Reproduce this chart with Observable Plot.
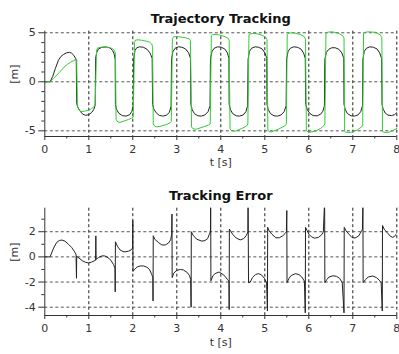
<!DOCTYPE html>
<html><head><meta charset="utf-8">
<script src="https://cdn.jsdelivr.net/npm/d3@7"></script>
<script src="https://cdn.jsdelivr.net/npm/@observablehq/plot@0.6"></script>
<style>body{margin:0;background:#fff}#chart svg{display:block}</style>
</head><body><div id="chart"></div>
<script>
const xTicks = [0, 1, 2, 3, 4, 5, 6, 7, 8];
const xMinor = [0.5, 1.5, 2.5, 3.5, 4.5, 5.5, 6.5, 7.5];
const topYTicks = [-5, 0, 5];
const topYMinor = [-4, -3, -2, -1, 1, 2, 3, 4];
const errYTicks = [-4, -2, 0, 2];
const errYMinor = [-3, -1, 1, 3];
const titles = ["Trajectory Tracking", "Tracking Error"];
const xLabel = "t [s]";
const yLabel = "[m]";

// reference trajectory (black), [t, value]
const refTrack = [
  [0,0],[0.12,0],[0.18,0.55],[0.24,1.36],[0.31,2.2],[0.37,2.6],[0.43,2.8],[0.5,2.97],[0.56,3.0],[0.61,2.92],[0.66,2.7],[0.7,2.38],[0.715,2.1],
  [0.725,-2.2],[0.75,-2.6],[0.8,-2.98],[0.86,-3.3],[0.93,-3.42],[1.0,-3.35],[1.06,-3.15],[1.11,-2.85],[1.145,-2.4],
  [1.155,2.4],[1.18,3.0],[1.22,3.35],[1.3,3.52],[1.4,3.55],[1.48,3.45],[1.54,3.2],[1.58,2.8],[1.6,2.3],
  [1.605,-2.3],[1.63,-2.8],[1.68,-3.2],[1.76,-3.45],[1.85,-3.5],[1.93,-3.35],[1.98,-3.0],[2.01,-2.4],
  [2.02,2.3],[2.05,3.2],[2.09,3.47],[2.16,3.57],[2.24,3.52],[2.32,3.33],[2.39,2.95],[2.44,2.4],
  [2.45,-2.3],[2.48,-2.8],[2.53,-3.15],[2.6,-3.42],[2.68,-3.5],[2.76,-3.42],[2.83,-3.13],[2.87,-2.5],
  [2.88,2.3],[2.91,3.05],[2.96,3.42],[3.04,3.57],[3.12,3.52],[3.2,3.35],[3.27,2.95],[3.31,2.4],
  [3.32,-2.3],[3.35,-2.85],[3.4,-3.25],[3.48,-3.47],[3.56,-3.5],[3.64,-3.38],[3.71,-3.05],[3.755,-2.45],
  [3.765,2.3],[3.8,3.1],[3.85,3.42],[3.93,3.57],[4.01,3.52],[4.09,3.35],[4.15,2.95],[4.185,2.4],
  [4.19,-2.3],[4.22,-2.85],[4.27,-3.25],[4.35,-3.47],[4.43,-3.5],[4.51,-3.38],[4.57,-3.05],[4.61,-2.45],
  [4.62,2.3],[4.65,3.1],[4.7,3.42],[4.78,3.57],[4.86,3.52],[4.94,3.35],[5.0,2.95],[5.045,2.4],
  [5.05,-2.3],[5.08,-2.85],[5.13,-3.25],[5.21,-3.47],[5.29,-3.5],[5.37,-3.38],[5.44,-3.05],[5.485,-2.45],
  [5.495,2.3],[5.53,3.1],[5.58,3.42],[5.66,3.57],[5.74,3.52],[5.82,3.35],[5.88,2.95],[5.92,2.4],
  [5.93,-2.3],[5.97,-2.9],[6.03,-3.25],[6.1,-3.45],[6.19,-3.47],[6.27,-3.3],[6.32,-3.0],[6.355,-2.45],
  [6.365,2.3],[6.4,3.0],[6.45,3.3],[6.52,3.47],[6.6,3.47],[6.68,3.33],[6.75,2.95],[6.795,2.4],
  [6.8,-2.3],[6.83,-2.85],[6.88,-3.25],[6.96,-3.47],[7.04,-3.5],[7.12,-3.38],[7.18,-3.05],[7.22,-2.45],
  [7.23,2.3],[7.26,3.1],[7.31,3.42],[7.39,3.57],[7.47,3.52],[7.55,3.35],[7.61,2.95],[7.655,2.4],
  [7.665,-2.3],[7.69,-2.8],[7.74,-3.2],[7.8,-3.4],[7.88,-3.45],[7.95,-3.35],[8.0,-3.15]
];

// actual trajectory (green), [t, value]
const actTrack = [
  [0,0],[0.12,0],[0.2,0.35],[0.31,0.86],[0.4,1.3],[0.46,1.6],[0.52,1.8],[0.58,1.98],[0.64,2.12],[0.69,2.25],[0.725,2.3],
  [0.74,-2.4],[0.77,-2.85],[0.82,-3.05],[0.9,-3.0],[0.99,-2.89],[1.06,-2.75],[1.11,-2.55],[1.145,-2.4],
  [1.175,3.2],[1.2,3.45],[1.28,3.52],[1.37,3.54],[1.46,3.5],[1.53,3.4],[1.58,3.2],[1.605,2.9],
  [1.62,-3.85],[1.66,-4.1],[1.71,-4.14],[1.8,-4.0],[1.9,-3.85],[1.97,-3.7],[2.01,-3.6],
  [2.04,4.0],[2.06,4.26],[2.12,4.28],[2.2,4.24],[2.3,4.15],[2.38,4.05],[2.43,3.85],[2.45,3.6],
  [2.465,-4.3],[2.5,-4.55],[2.55,-4.6],[2.66,-4.5],[2.77,-4.35],[2.85,-4.18],[2.875,-4.05],
  [2.9,4.4],[2.93,4.6],[3.04,4.6],[3.19,4.5],[3.28,4.38],[3.31,4.2],
  [3.335,-4.6],[3.37,-4.8],[3.45,-4.83],[3.6,-4.6],[3.72,-4.42],[3.76,-4.3],
  [3.785,4.7],[3.82,4.84],[3.95,4.8],[4.1,4.6],[4.17,4.43],[4.19,4.2],
  [4.21,-4.8],[4.25,-5.0],[4.33,-5.03],[4.48,-4.76],[4.59,-4.49],[4.615,-4.3],
  [4.64,4.8],[4.68,4.9],[4.78,4.94],[4.93,4.77],[5.02,4.55],[5.05,4.3],
  [5.07,-4.95],[5.1,-5.08],[5.16,-5.1],[5.31,-4.83],[5.46,-4.49],[5.49,-4.3],
  [5.51,4.85],[5.55,4.97],[5.65,5.0],[5.8,4.84],[5.9,4.6],[5.925,4.35],
  [5.945,-5.0],[5.98,-5.1],[6.02,-5.15],[6.15,-5.03],[6.27,-4.76],[6.34,-4.49],[6.365,-4.3],
  [6.39,4.95],[6.43,5.06],[6.53,5.1],[6.68,4.94],[6.77,4.7],[6.8,4.45],
  [6.815,-5.05],[6.85,-5.16],[6.95,-5.16],[7.1,-4.93],[7.2,-4.59],[7.225,-4.4],
  [7.245,4.95],[7.28,5.05],[7.36,5.1],[7.52,5.04],[7.63,4.77],[7.66,4.5],
  [7.675,-5.05],[7.71,-5.16],[7.82,-5.15],[7.93,-4.93],[8.0,-4.75]
];

// tracking error, [t, value]
const trackErr = [
  [0,0],[0.12,0],[0.2,0.7],[0.27,1.15],[0.33,1.3],[0.39,1.34],[0.46,1.25],[0.54,1.0],[0.61,0.75],[0.67,0.45],[0.71,0.2],
  [0.72,-1.7],[0.725,0.05],[0.78,-0.1],[0.85,-0.3],[0.92,-0.42],[0.99,-0.48],[1.06,-0.42],[1.12,-0.32],[1.155,-0.27],
  [1.16,1.67],[1.165,-0.2],[1.22,-0.05],[1.3,0.08],[1.36,0.08],[1.41,0.0],[1.47,-0.15],[1.51,-0.32],[1.56,-0.6],[1.595,-0.9],
  [1.6,-2.78],[1.605,1.2],[1.65,0.85],[1.71,0.55],[1.78,0.42],[1.83,0.4],[1.9,0.45],[1.96,0.55],[1.995,0.7],
  [2.0,2.88],[2.005,-1.15],[2.04,-1.0],[2.1,-0.8],[2.17,-0.72],[2.24,-0.72],[2.32,-0.82],[2.38,-1.0],[2.43,-1.4],[2.455,-1.65],
  [2.46,-3.5],[2.465,1.68],[2.5,1.4],[2.58,1.15],[2.66,0.95],[2.74,0.95],[2.81,1.1],[2.86,1.35],[2.885,1.8],
  [2.89,3.41],[2.895,-1.65],[2.93,-1.3],[3.0,-1.07],[3.08,-1.0],[3.15,-1.04],[3.24,-1.25],[3.29,-1.5],[3.315,-1.78],
  [3.325,-4.0],[3.33,2.0],[3.37,1.72],[3.45,1.41],[3.57,1.25],[3.64,1.3],[3.7,1.45],[3.74,1.8],[3.765,2.0],
  [3.77,4.5],[3.775,-1.9],[3.82,-1.5],[3.87,-1.33],[3.96,-1.2],[4.05,-1.4],[4.1,-1.55],[4.15,-1.8],[4.185,-1.92],
  [4.19,-4.19],[4.195,2.21],[4.23,2.0],[4.28,1.75],[4.35,1.5],[4.44,1.35],[4.52,1.45],[4.58,1.7],[4.615,1.98],
  [4.62,4.5],[4.63,-2.05],[4.67,-2.0],[4.72,-1.65],[4.79,-1.4],[4.86,-1.33],[4.93,-1.45],[4.99,-1.7],[5.04,-2.05],
  [5.06,-4.3],[5.065,2.35],[5.1,2.05],[5.16,1.81],[5.25,1.52],[5.33,1.52],[5.41,1.68],[5.46,1.85],[5.49,1.98],
  [5.5,3.68],[5.505,-2.05],[5.55,-1.7],[5.6,-1.48],[5.7,-1.33],[5.78,-1.42],[5.84,-1.6],[5.9,-1.92],
  [5.92,-4.45],[5.925,2.35],[5.96,2.1],[6.0,1.81],[6.06,1.6],[6.13,1.49],[6.22,1.55],[6.29,1.75],[6.33,1.98],
  [6.36,4.5],[6.365,-2.05],[6.41,-1.8],[6.46,-1.6],[6.55,-1.5],[6.63,-1.55],[6.7,-1.7],[6.76,-2.05],
  [6.8,-4.45],[6.805,2.35],[6.85,2.05],[6.91,1.81],[6.98,1.55],[7.05,1.5],[7.13,1.65],[7.19,2.0],[7.22,2.2],
  [7.23,4.5],[7.235,-2.05],[7.29,-1.8],[7.35,-1.6],[7.45,-1.52],[7.54,-1.65],[7.6,-1.85],[7.645,-2.05],
  [7.67,-4.3],[7.675,2.5],[7.72,2.15],[7.78,1.95],[7.85,1.65],[7.91,1.55],[7.97,1.7],[8.0,1.9]
];

const fmt = d => String(d);

function panel({title, lines, yDomain, yTicks, yMinor, marginBottom, xLabelDy}) {
  return Plot.plot({
    width: 399,
    height: 177,
    marginLeft: 44.3,
    marginRight: 2.7,
    marginTop: 30.7,
    marginBottom,
    x: {domain: [0, 8]},
    y: {domain: yDomain},
    style: {fontFamily: "DejaVu Sans", fontSize: "11px", color: "#333", background: "#fff"},
    marks: [
      Plot.gridX(xTicks.slice(1), {stroke: "#222", strokeOpacity: 1, strokeDasharray: "3,2.5", strokeWidth: 1}),
      Plot.gridY(yTicks, {stroke: "#555", strokeOpacity: 1, strokeDasharray: "3,2.5", strokeWidth: 1}),
      ...lines,
      Plot.ruleX([0], {stroke: "#333"}),
      Plot.ruleY([yDomain[0]], {stroke: "#333"}),
      Plot.axisX(xTicks, {anchor: "bottom", tickSize: 4, tickPadding: 5, tickFormat: fmt, label: null, stroke: "#333"}),
      Plot.axisX(xMinor, {anchor: "bottom", tickSize: 2.5, tickFormat: () => "", label: null, stroke: "#333"}),
      Plot.axisY(yTicks, {anchor: "left", tickSize: 6, tickPadding: 3, tickFormat: fmt, label: null, stroke: "#333"}),
      Plot.axisY(yMinor, {anchor: "left", tickSize: 3, tickFormat: () => "", label: null, stroke: "#333"}),
      Plot.text([title], {text: d => d, frameAnchor: "top", dy: -17.7, fontSize: 13, fontWeight: "bold", fill: "#111"}),
      Plot.text([xLabel], {text: d => d, frameAnchor: "bottom", dy: xLabelDy, fontSize: 11, fill: "#333"}),
      Plot.text([yLabel], {text: d => d, frameAnchor: "left", dx: -30, rotate: -90, fontSize: 11, fill: "#333"})
    ]
  });
}

const topPanel = panel({
  title: titles[0],
  yDomain: [-5.58, 5.16],
  yTicks: topYTicks,
  yMinor: topYMinor,
  marginBottom: 41,
  xLabelDy: 29,
  lines: [
    Plot.line(refTrack, {x: d => d[0], y: d => d[1], stroke: "#222", strokeWidth: 1}),
    Plot.line(actTrack, {x: d => d[0], y: d => d[1], stroke: "#33cc33", strokeWidth: 1})
  ]
});

const bottomPanel = panel({
  title: titles[1],
  yDomain: [-4.66, 3.87],
  yTicks: errYTicks,
  yMinor: errYMinor,
  marginBottom: 39,
  xLabelDy: 30,
  lines: [
    Plot.line(trackErr, {x: d => d[0], y: d => d[1], stroke: "#222", strokeWidth: 1, clip: true})
  ]
});

document.getElementById("chart").append(topPanel, bottomPanel);
</script>
</body></html>
